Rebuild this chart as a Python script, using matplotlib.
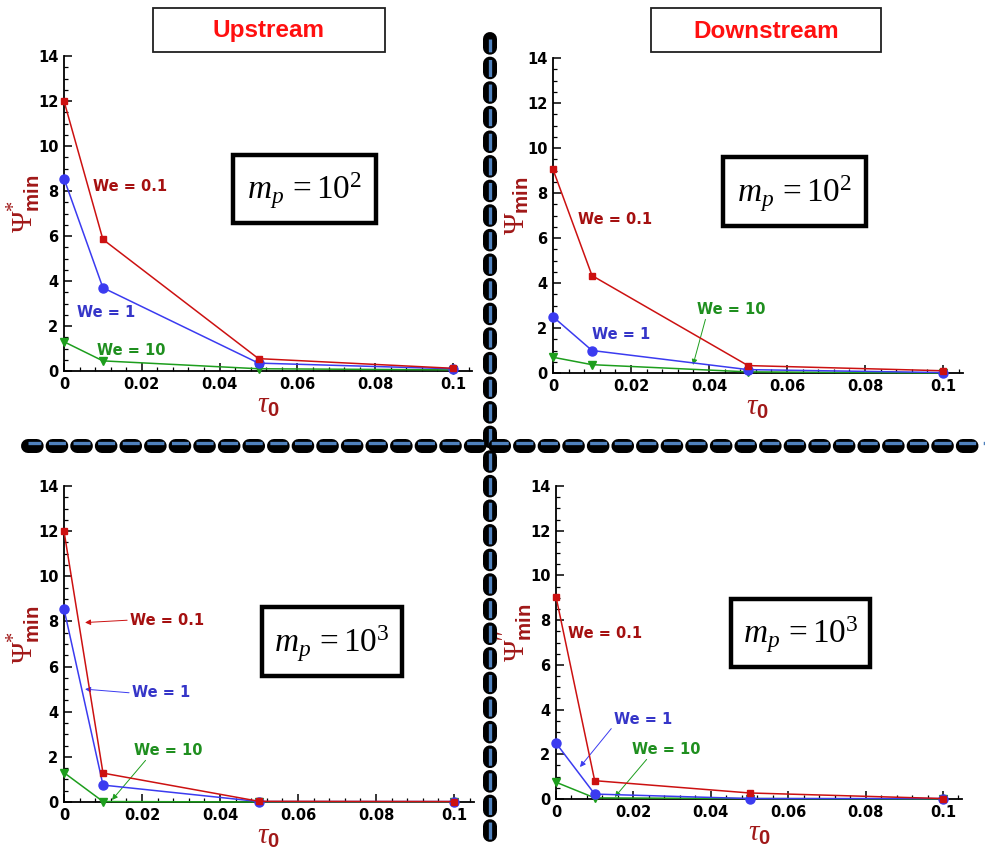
import matplotlib
matplotlib.use('Agg')
import matplotlib.pyplot as plt
from matplotlib.lines import Line2D
from matplotlib.patches import Rectangle
from matplotlib.ticker import MultipleLocator, FuncFormatter

plt.rcParams['font.family'] = ['DejaVu Sans']
plt.rcParams['font.weight'] = 'bold'
plt.rcParams['mathtext.fontset'] = 'custom'
plt.rcParams['mathtext.rm'] = 'Liberation Serif:weight=normal'
plt.rcParams['mathtext.it'] = 'Liberation Serif:style=italic:weight=normal'
plt.rcParams['mathtext.bf'] = 'Liberation Sans:weight=bold'
plt.rcParams['lines.scale_dashes'] = False

W, H = 985, 850

# ---------------- data ----------------
tau0 = [0.0, 0.01, 0.05, 0.1]
we_labels = ['We = 0.1', 'We = 1', 'We = 10']

# upstream, m_p = 10^2
up2_we01 = [12.0, 5.85, 0.55, 0.12]
up2_we1 = [8.55, 3.7, 0.35, 0.1]
up2_we10 = [1.3, 0.45, 0.1, 0.05]
# downstream, m_p = 10^2
dn2_we01 = [9.05, 4.33, 0.33, 0.1]
dn2_we1 = [2.5, 1.0, 0.15, 0.02]
dn2_we10 = [0.7, 0.37, 0.05, 0.0]
# upstream, m_p = 10^3
up3_we01 = [12.0, 1.28, 0.03, 0.02]
up3_we1 = [8.55, 0.75, 0.02, 0.02]
up3_we10 = [1.3, 0.02, 0.0, 0.0]
# downstream, m_p = 10^3
dn3_we01 = [9.05, 0.82, 0.27, 0.02]
dn3_we1 = [2.5, 0.22, 0.02, 0.02]
dn3_we10 = [0.75, 0.05, 0.02, 0.0]

line_colors = ['#cc1111', '#3b3bf0', '#1d9e1d']
text_colors = ['#a51010', '#3535c8', '#1f8f1f']
markers = ['s', 'o', 'v']
msizes = [5, 6.5, 6]

fig = plt.figure(figsize=(W / 100, H / 100), dpi=100)
fig.patch.set_facecolor('white')


def fx(x):
    return x / W


def fy(y):
    return 1 - y / H


def make_axes(left, top, bottom, xscale):
    width = 0.105 * xscale
    height = bottom - top
    ax = fig.add_axes([fx(left), fy(bottom), width / W, height / H])
    ax.set_xlim(0, 0.105)
    ax.set_ylim(0, 14)
    for s in ('top', 'right'):
        ax.spines[s].set_visible(False)
    for s in ('left', 'bottom'):
        ax.spines[s].set_linewidth(1.3)
    ax.xaxis.set_major_locator(MultipleLocator(0.02))
    ax.xaxis.set_minor_locator(MultipleLocator(0.004))
    ax.yaxis.set_major_locator(MultipleLocator(2))
    ax.yaxis.set_minor_locator(MultipleLocator(0.5))
    ax.xaxis.set_major_formatter(FuncFormatter(
        lambda v, p: '0' if abs(v) < 1e-12 else ('%g' % v)))
    ax.tick_params(which='major', direction='in', length=5.5, width=1.1,
                   labelsize=10.5, pad=4)
    ax.tick_params(which='minor', direction='in', length=3, width=0.9)
    ax.patch.set_alpha(0)
    return ax


panels = [
    dict(pos=(64, 56, 371, 3890), series=[up2_we01, up2_we1, up2_we10],
         ylabel=r'$\Psi^{*}_{\mathbf{min}}$',
         labels=[
             dict(xy=(0.0075, 8.18)),
             dict(xy=(0.0033, 2.6)),
             dict(xy=(0.0085, 0.93)),
         ]),
    dict(pos=(553, 58, 373, 3900), series=[dn2_we01, dn2_we1, dn2_we10],
         ylabel=r'$\Psi_{\mathbf{min}}$',
         labels=[
             dict(xy=(0.0064, 6.84)),
             dict(xy=(0.010, 1.69)),
             dict(xy=(0.037, 2.84), target=(0.0359, 0.36), rel=(0.13, 0.0)),
         ]),
    dict(pos=(64, 486, 802, 3900), series=[up3_we01, up3_we1, up3_we10],
         ylabel=r'$\Psi^{*}_{\mathbf{min}}$',
         labels=[
             dict(xy=(0.0169, 8.06), target=(0.0054, 7.95), rel=(0.0, 0.5)),
             dict(xy=(0.0174, 4.83), target=(0.0054, 5.0), rel=(0.0, 0.5)),
             dict(xy=(0.018, 2.3), target=(0.0123, 0.09), rel=(0.2, 0.0)),
         ]),
    dict(pos=(556, 486, 799, 3870), series=[dn3_we01, dn3_we1, dn3_we10],
         ylabel=r'$\Psi^{\prime\prime}_{\mathbf{min}}$',
         labels=[
             dict(xy=(0.0031, 7.4)),
             dict(xy=(0.015, 3.57), target=(0.0062, 1.43), rel=(0.0, 0.1)),
             dict(xy=(0.0196, 2.23), target=(0.0152, 0.09), rel=(0.25, 0.0)),
         ]),
]

for p in panels:
    left, top, bottom, xscale = p['pos']
    ax = make_axes(left, top, bottom, xscale)
    width = 0.105 * xscale
    height = bottom - top
    for i, vals in enumerate(p['series']):
        ax.plot(tau0, vals, color=line_colors[i], lw=1.1, marker=markers[i],
                ms=msizes[i], mec=line_colors[i], mfc=line_colors[i],
                clip_on=False, zorder=3 + (2 - i) * 0.1)
    for i, lab in enumerate(p['labels']):
        if 'target' in lab:
            ax.annotate(we_labels[i], xy=lab['target'], xytext=lab['xy'],
                        ha='left', va='center', color=text_colors[i],
                        fontsize=10.5, fontweight='bold',
                        arrowprops=dict(arrowstyle='-|>', color=line_colors[i],
                                        lw=0.7, mutation_scale=8,
                                        shrinkA=0, shrinkB=0,
                                        relpos=lab['rel']))
        else:
            ax.text(lab['xy'][0], lab['xy'][1], we_labels[i], ha='left',
                    va='center', color=text_colors[i], fontsize=10.5,
                    fontweight='bold')
    ax.set_ylabel(p['ylabel'], color='#a01818', fontsize=21, labelpad=0)
    ax.yaxis.set_label_coords(-22 / width, 0.53)
    ax.set_xlabel(r'$\tau_{\mathbf{0}}$', color='#a01818', fontsize=21)
    ax.xaxis.set_label_coords(0.5, -20 / height)
    ax.xaxis.label.set_va('top')

# ---------------- headers ----------------
for (x0, x1, txt) in [(153, 385, 'Upstream'), (651, 881, 'Downstream')]:
    fig.add_artist(Rectangle((fx(x0), fy(52)), (x1 - x0) / W, 44 / H,
                             transform=fig.transFigure, fill=False,
                             edgecolor='#202020', lw=1.3))
    fig.text(fx((x0 + x1) / 2), fy(31), txt, ha='center', va='center',
             family='Liberation Sans', fontweight='bold', fontsize=17.5,
             color='#ff1010')

# ---------------- m_p boxes ----------------
for (x0, y0, x1, y1, txt) in [
        (233, 155, 376, 223, r'$m_p\,=10^2$'),
        (723, 157, 866, 226, r'$m_p\,=10^2$'),
        (262, 607, 402, 676, r'$m_p\,=10^3$'),
        (731, 599, 870, 667, r'$m_p\,=10^3$')]:
    fig.add_artist(Rectangle((fx(x0), fy(y1)), (x1 - x0) / W, (y1 - y0) / H,
                             transform=fig.transFigure, fill=False,
                             edgecolor='black', lw=3.2))
    fig.text(fx((x0 + x1) / 2), fy((y0 + y1) / 2 + 2), txt, ha='center',
             va='center', fontsize=24, color='black')

# ---------------- dashed separators ----------------
PT = 0.72  # points per pixel at 100 dpi
blk_on, blk_off = 8.7 * PT, 15.9 * PT
blu_on, blu_off = 17 * PT, 7.6 * PT
blu_offset = 4.15 * PT


def separator(xs, ys, blue_shift=(0, 0)):
    fig.add_artist(Line2D([fx(x) for x in xs], [fy(y) for y in ys],
                          transform=fig.transFigure, color='black',
                          lw=14 * PT, linestyle=(0, (blk_on, blk_off)),
                          dash_capstyle='round'))
    fig.add_artist(Line2D([fx(x + blue_shift[0]) for x in xs],
                          [fy(y + blue_shift[1]) for y in ys],
                          transform=fig.transFigure, color='#4f81bd',
                          lw=3.3 * PT,
                          linestyle=(blu_offset, (blu_on, blu_off)),
                          dash_capstyle='butt'))


separator([490, 490], [39, 840])
separator([28, 1000], [446, 446], blue_shift=(0, -3))

fig.savefig('out.png', dpi=100, facecolor='white')
